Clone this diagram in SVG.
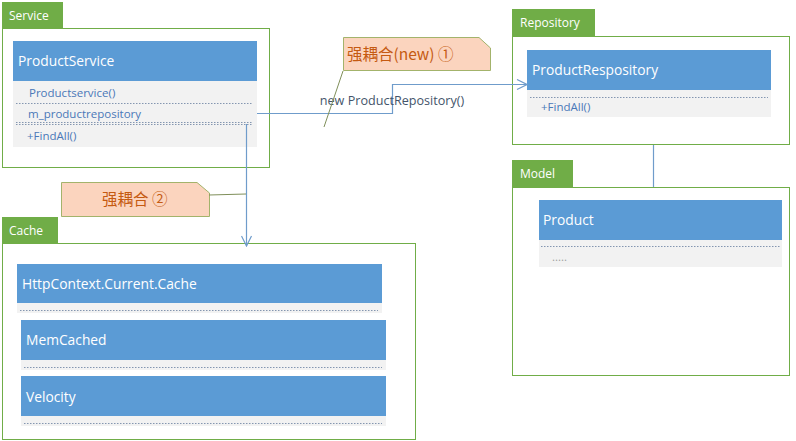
<svg xmlns="http://www.w3.org/2000/svg" width="796" height="441" viewBox="0 0 796 441">
<defs>
<style>
.frame{fill:#fff;stroke:#70ad47;stroke-width:1}
.tab{fill:#70ad47}
.tabt{fill:#fff;font-family:"Open Sans","Noto Sans",sans-serif;font-size:12px}
.hdr{fill:#5b9bd5}
.hdrt{fill:#fff;font-family:"Open Sans","Noto Sans",sans-serif;font-size:13.8px}
.body{fill:#f2f2f2}
.mt{fill:#4a78b8;font-family:"Open Sans","Noto Sans",sans-serif;font-size:11.5px}
.dot{stroke:#8496b0;stroke-width:1;stroke-dasharray:1.5 1.5}
.conn{fill:none;stroke:#6f9ccb;stroke-width:1.2}
.note{fill:#fbd4be;stroke:#a3b36b;stroke-width:1}
.notet{fill:#c55a11;font-family:"Noto Sans CJK SC","Open Sans",sans-serif;font-size:15.5px}
.nl{fill:none;stroke:#7f8f5a;stroke-width:1}
</style>
<marker id="open" viewBox="0 0 12 12" refX="11" refY="6" markerWidth="12" markerHeight="12" markerUnits="userSpaceOnUse" orient="auto">
<path d="M1,1 L11,6 L1,11" fill="none" stroke="#6f9ccb" stroke-width="1.2"/>
</marker>
</defs>
<rect width="796" height="441" fill="#fff"/>

<g id="service">
<rect class="frame" x="2.5" y="28.5" width="267" height="139"/>
<rect class="tab" x="2" y="2" width="61" height="27"/>
<text class="tabt" x="9" y="20">Service</text>
<rect class="body" x="13" y="81" width="244" height="66"/>
<rect class="hdr" x="13" y="41" width="244" height="40"/>
<text class="hdrt" x="18" y="66">ProductService</text>
<text class="mt" x="29" y="97">Productservice()</text>
<line class="dot" x1="16" y1="103.5" x2="253" y2="103.5"/>
<text class="mt" x="28" y="118">m_productrepository</text>
<line class="dot" x1="16" y1="122.5" x2="253" y2="122.5"/>
<line class="dot" x1="16" y1="124.5" x2="253" y2="124.5"/>
<text class="mt" x="27" y="140">+FindAll()</text>
</g>

<g id="repository">
<rect class="frame" x="512.5" y="36.5" width="277" height="108"/>
<rect class="tab" x="512" y="9" width="83" height="28"/>
<text class="tabt" x="520" y="27">Repository</text>
<rect class="body" x="527" y="90" width="244" height="27"/>
<rect class="hdr" x="527" y="50" width="244" height="40"/>
<text class="hdrt" x="532" y="75">ProductRespository</text>
<line class="dot" x1="530" y1="97.5" x2="768" y2="97.5"/>
<text class="mt" x="541" y="111">+FindAll()</text>
</g>

<g id="model">
<rect class="frame" x="512.5" y="187.5" width="277" height="188"/>
<rect class="tab" x="512" y="160" width="61" height="28"/>
<text class="tabt" x="520" y="178">Model</text>
<rect class="body" x="539" y="240" width="243" height="27"/>
<rect class="hdr" x="539" y="200" width="243" height="40"/>
<text class="hdrt" x="543" y="225">Product</text>
<line class="dot" x1="541" y1="246.5" x2="780" y2="246.5"/>
<text class="mt" x="552" y="261" style="fill:#a0a0a0">.....</text>
</g>

<g id="cache">
<rect class="frame" x="2.5" y="243.5" width="413" height="196"/>
<rect class="tab" x="2" y="217" width="56" height="27"/>
<text class="tabt" x="9" y="235">Cache</text>
<rect class="body" x="17" y="303" width="365" height="10"/>
<rect class="hdr" x="17" y="264" width="365" height="39"/>
<text class="hdrt" x="22" y="289">HttpContext.Current.Cache</text>
<line class="dot" x1="20" y1="310.5" x2="378" y2="310.5"/>
<rect class="body" x="21" y="360" width="365" height="10"/>
<rect class="hdr" x="21" y="320" width="365" height="40"/>
<text class="hdrt" x="26" y="345">MemCached</text>
<line class="dot" x1="24" y1="367.5" x2="382" y2="367.5"/>
<rect class="body" x="21" y="416" width="365" height="10"/>
<rect class="hdr" x="21" y="376" width="365" height="40"/>
<text class="hdrt" x="26" y="402">Velocity</text>
<line class="dot" x1="24" y1="423.5" x2="382" y2="423.5"/>
</g>

<g id="note1">
<path class="note" d="M343.5,37.5 H479 L490.5,48 V70.5 H343.5 Z"/>
<text class="notet" x="347" y="60">强耦合(new) ①</text>
</g>

<g id="note2">
<path class="note" d="M61.5,182.5 H197 L209.5,193 V216.5 H61.5 Z"/>
<text class="notet" x="102" y="205">强耦合 ②</text>
</g>

<g id="connectors">
<path class="conn" d="M257,113.5 H392.5 V84.5 H527" marker-end="url(#open)"/>
<text x="392" y="105" text-anchor="middle" font-family="'Open Sans','Noto Sans',sans-serif" font-size="12.6" fill="#44546a">new ProductRepository()</text>
<path class="conn" d="M246.5,124 V246" marker-end="url(#open)"/>
<line class="conn" x1="653.5" y1="145" x2="653.5" y2="187"/>
<line class="nl" x1="343" y1="71" x2="324" y2="127"/>
<line class="nl" x1="209" y1="195" x2="246" y2="194"/>
</g>
</svg>
